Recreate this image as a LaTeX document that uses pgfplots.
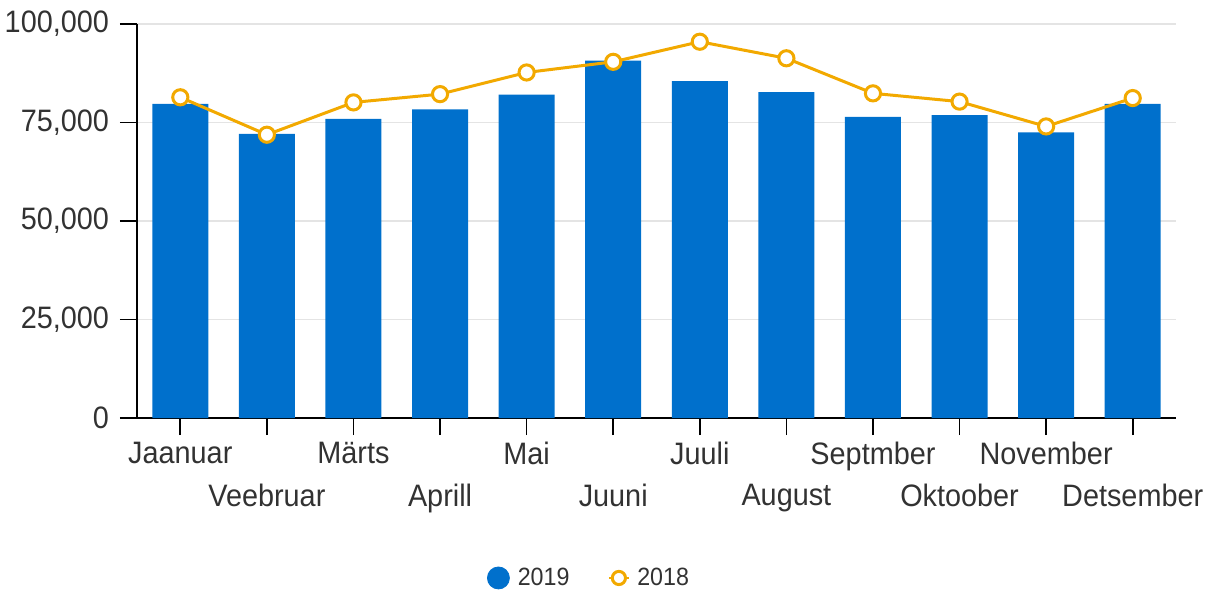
\documentclass[border=0pt]{standalone}
\usepackage{fontspec}
\setmainfont{Liberation Sans}[FakeStretch=0.93]
\usepackage{pgfplots}
\pgfplotsset{compat=1.18}
\definecolor{barblue}{RGB}{0,112,204}
\definecolor{lineorange}{RGB}{242,169,0}
\definecolor{gridgray}{RGB}{228,228,228}
\definecolor{txt}{RGB}{50,50,50}
\begin{document}
\begin{tikzpicture}
\path[use as bounding box] (-68.5bp,-87bp) rectangle (537bp,209bp);
\begin{axis}[
  at={(0,0)}, anchor=south west,
  scale only axis, width=519.5bp, height=197bp,
  xmin=-0.5, xmax=11.5, ymin=0, ymax=100000,
  ytick={0,25000,50000,75000,100000},
  yticklabels={0,{25,000},{50,000},{75,000},{100,000}},
  scaled y ticks=false,
  yticklabel style={xshift=-2bp},
  ymajorgrids, grid style={gridgray, line width=0.7bp},
  axis x line*=bottom, axis y line*=left,
  axis line style={black, line width=0.8bp, -},
  tick align=outside, major tick length=8.5bp,
  tick style={black, line width=0.8bp},
  xtick={0,2,4,6,8,10},
  xticklabels={Jaanuar,Märts,Mai,Juuli,Septmber,November},
  extra x ticks={1,3,5,7,9,11},
  extra x tick labels={Veebruar,Aprill,Juuni,August,Oktoober,Detsember},
  extra x tick style={xticklabel style={yshift=-21bp}},
  tick label style={font=\fontsize{15.5bp}{18bp}\selectfont, text=txt},
  legend style={at={(0.436,-0.406)}, anchor=center, draw=none, fill=none,
    legend columns=2, font=\fontsize{12.5bp}{14bp}\selectfont, text=txt,
    /tikz/every even column/.append style={column sep=17bp}},
]
\addlegendimage{legend image code/.code={\fill[barblue] (8bp,0) circle (5.5bp); \path (15.5bp,0);}}
\addlegendentry{2019}
\addlegendimage{legend image code/.code={\draw[lineorange,line width=1.4bp] (0,0)--(10bp,0); \draw[lineorange, line width=1.5bp, fill=white] (5bp,0) circle (3.3bp); \path (12bp,0);}}
\addlegendentry{2018}
\addplot[ybar, bar width=28bp, fill=barblue, draw=none, forget plot] coordinates {
(0,79700) (1,72100) (2,75900) (3,78300) (4,82100) (5,90700)
(6,85500) (7,82700) (8,76400) (9,76900) (10,72500) (11,79700)};
\addplot[lineorange, line width=1.5bp, mark=*, mark size=3.8bp,
  mark options={fill=white, draw=lineorange, line width=1.5bp}, forget plot] coordinates {
(0,81400) (1,71900) (2,80100) (3,82200) (4,87700) (5,90400)
(6,95500) (7,91300) (8,82400) (9,80300) (10,74000) (11,81200)};
\end{axis}
\end{tikzpicture}
\end{document}
